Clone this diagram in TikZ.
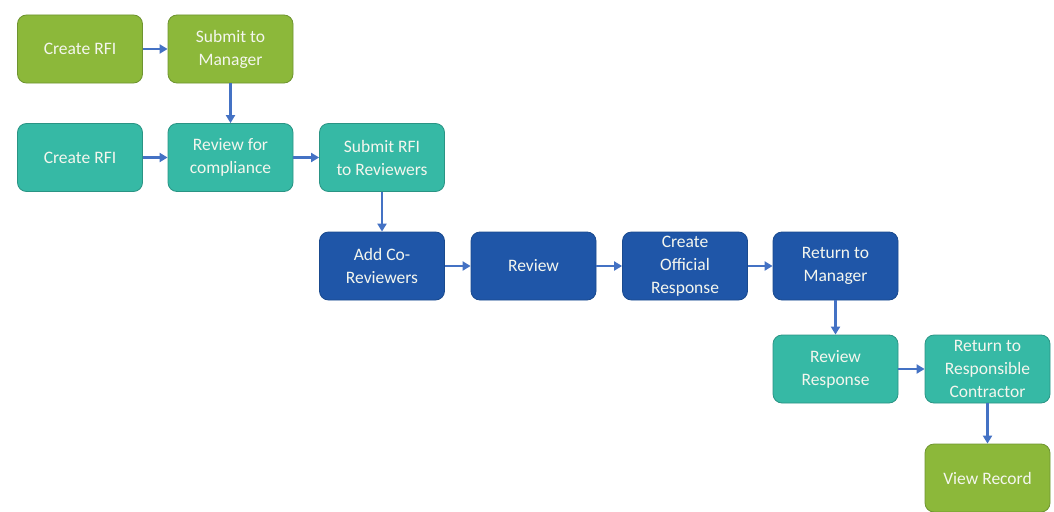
\documentclass[tikz,border=0pt]{standalone}
\usepackage{fontspec}
\setmainfont{Carlito}
\usetikzlibrary{arrows.meta}
\definecolor{cgreen}{HTML}{8CB83A}
\definecolor{cgreenb}{HTML}{6E9430}
\definecolor{cteal}{HTML}{36B9A5}
\definecolor{ctealb}{HTML}{2A9484}
\definecolor{cblue}{HTML}{1F56A8}
\definecolor{cblueb}{HTML}{1A4A8E}
\definecolor{carrow}{HTML}{4472C4}
\definecolor{ctext}{HTML}{F4F6EE}
\begin{document}
\begin{tikzpicture}[x=1pt,y=-1pt,
  box/.style={rounded corners=9pt, minimum width=125pt, minimum height=68pt, align=center,
    text=ctext, font=\fontsize{17.5}{23}\selectfont, line width=0.8pt, inner sep=2pt},
  gbox/.style={box, fill=cgreen, draw=cgreenb},
  tbox/.style={box, fill=cteal, draw=ctealb},
  bbox/.style={box, fill=cblue, draw=cblueb},
  conn/.style={draw=carrow, line width=2.2pt, -{Triangle[length=8pt,width=9pt]}}]
\useasboundingbox (0,0) rectangle (1054,511);
\node[gbox] (g1) at (80,49) {Create RFI};
\node[gbox] (g2) at (230.5,49) {Submit to\\Manager};
\node[tbox] (t1) at (80,157.5) {Create RFI};
\node[tbox] (t2) at (230.5,157.5) {Review for\\compliance};
\node[tbox] (t3) at (382,157.5) {Submit RFI\\to Reviewers};
\node[bbox] (b1) at (382,266) {Add Co-\\Reviewers};
\node[bbox] (b2) at (533.5,266) {Review};
\node[bbox] (b3) at (685,266) {Create\\Official\\Response};
\node[bbox] (b4) at (835.5,266) {Return to\\Manager};
\node[tbox] (t4) at (835.5,369) {Review\\Response};
\node[tbox] (t5) at (987.5,369) {Return to\\Responsible\\Contractor};
\node[gbox] (g3) at (987.5,478) {View Record};
\draw[conn] (g1) -- (g2);
\draw[conn] (g2) -- (t2);
\draw[conn] (t1) -- (t2);
\draw[conn] (t2) -- (t3);
\draw[conn] (t3) -- (b1);
\draw[conn] (b1) -- (b2);
\draw[conn] (b2) -- (b3);
\draw[conn] (b3) -- (b4);
\draw[conn] (b4) -- (t4);
\draw[conn] (t4) -- (t5);
\draw[conn] (t5) -- (g3);
\end{tikzpicture}
\end{document}
